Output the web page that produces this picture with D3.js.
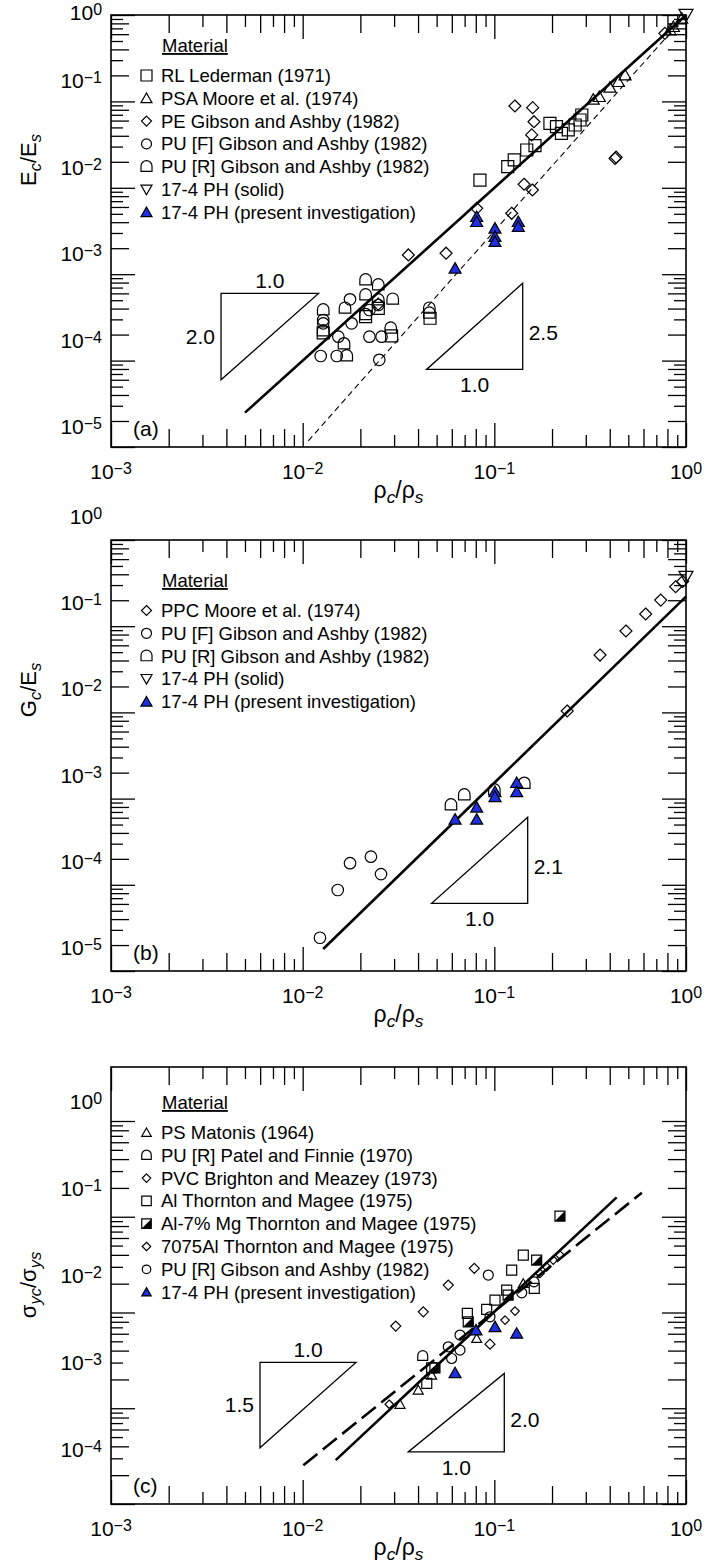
<!DOCTYPE html>
<html>
<head>
<meta charset="utf-8">
<script src="https://cdn.jsdelivr.net/npm/d3@7"></script>
<style>
  body { margin: 0; background: #fff; }
  svg { display: block; }
  text { font-family: "Liberation Sans", Arial, Helvetica, sans-serif; fill: #000; }
</style>
</head>
<body>
<svg id="chart" width="707" height="1568"></svg>
<script>
// ---------- data (x = rho_c/rho_s, y = property ratio) ----------
const xTickVals = [1e-3, 1e-2, 1e-1, 1];

// panel (a): Ec/Es
const aLederman = [[0.0841,0.0123],[0.1175,0.01755],[0.127,0.021],[0.1476,0.0274],[0.163,0.0307],[0.195,0.0558],[0.211,0.051],[0.224,0.0427],[0.243,0.0467],[0.264,0.0533],[0.280,0.0609],[0.286,0.0696],[0.0128,2.09e-4],[0.0213,3.22e-4],[0.0248,4.03e-4],[0.0291,1.93e-4],[0.0462,3.09e-4]];
const aPSA = [[0.328,0.1057],[0.353,0.1134],[0.401,0.1456],[0.444,0.169],[0.481,0.202],[0.825,0.67],[0.859,0.732],[0.95,0.916]];
const aPE = [[0.0356,1.67e-3],[0.056,1.75e-3],[0.0809,5.79e-3],[0.1232,5.07e-3],[0.143,0.011],[0.158,9.43e-3],[0.128,0.0885],[0.1585,0.0846],[0.161,0.0582],[0.1567,0.0409],[0.4264,0.0219],[0.432,0.0226],[0.776,0.614],[0.0248,4.5e-4]];
const aPUF = [[0.0128,2.95e-4],[0.0128,2.7e-4],[0.01766,5.12e-4],[0.018,2.7e-4],[0.01535,1.89e-4],[0.01242,1.13e-4],[0.01506,1.13e-4],[0.0223,3.85e-4],[0.0248,4.4e-4],[0.0223,1.89e-4],[0.0258,1.89e-4],[0.0251,1.02e-4]];
const aPUR = [[0.0128,3.85e-4],[0.0128,2.2e-4],[0.01663,4.03e-4],[0.01643,1.56e-4],[0.01698,1.13e-4],[0.0213,8.57e-4],[0.0213,5.74e-4],[0.0213,3.4e-4],[0.0248,7.5e-4],[0.0248,5.03e-4],[0.0295,5.12e-4],[0.0288,2.37e-4],[0.0458,4.03e-4],[0.0458,3.53e-4]];
const aSolidPH = [[1,1]];
const aPresent = [[0.0624,1.17e-3],[0.0809,4.63e-3],[0.0809,4.05e-3],[0.1008,3.4e-3],[0.1008,2.72e-3],[0.1008,2.38e-3],[0.1334,4.05e-3],[0.1334,3.55e-3]];
const aFitSolid = [[0.005,2.5e-5],[1,1]];
const aFitDashed = [[0.0107,1.18e-5],[1,1]];
const aTriLeft = [[0.00375,6e-4],[0.0121,6e-4],[0.00375,6e-5]];
const aTriRight = [[0.0443,7.9e-5],[0.1406,7.9e-5],[0.1406,7.85e-4]];

// panel (b): Gc/Es
const bPPC = [[0.240,0.01038],[0.356,0.0463],[0.486,0.088],[0.616,0.1385],[0.738,0.201],[0.883,0.287],[0.96,0.33]];
const bPUF = [[0.01231,2.43e-5],[0.01524,8.7e-5],[0.01766,1.78e-4],[0.0227,2.12e-4],[0.02563,1.33e-4]];
const bPUR = [[0.0594,8.43e-4],[0.0697,1.1e-3],[0.100,1.26e-3],[0.1433,1.5e-3]];
const bSolidPH = [[1,0.372]];
const bPresent = [[0.0624,5.75e-4],[0.0809,7.93e-4],[0.0809,5.75e-4],[0.1008,1.2e-3],[0.1008,1.05e-3],[0.1308,1.53e-3],[0.1308,1.2e-3]];
const bFit = [[0.0128,1.8e-5],[1,0.22]];
const bTri = [[0.0471,6.1e-5],[0.1493,6.1e-5],[0.1493,6.07e-4]];

// panel (c): sigma_yc/sigma_ys
const cPS = [[0.0322,1.1e-3],[0.0401,1.55e-3],[0.0471,2.22e-3],[0.0809,5.36e-3],[0.1416,0.0201]];
const cPUPatel = [[0.0423,3.5e-3]];
const cPVC = [[0.0786,0.0289],[0.0575,0.01933],[0.0426,0.01017],[0.0306,7.21e-3],[0.0949,4.67e-3]];
const cAl = [[0.1232,0.0277],[0.1416,0.0398],[0.1616,0.01786],[0.116,0.01714],[0.1008,0.01348],[0.0912,0.01077],[0.0723,9.78e-3],[0.0471,2.64e-3],[0.0444,1.82e-3]];
const cAlMg = [[0.220,0.1017],[0.1663,0.0353],[0.0731,7.99e-3],[0.049,2.64e-3],[0.118,0.0152]];
const c7075 = [[0.0283,1.1e-3],[0.1137,8.33e-3],[0.1282,0.01034],[0.173,0.0256],[0.1875,0.030],[0.203,0.0353],[0.220,0.0398]];
const cPUGibson = [[0.093,0.0246],[0.139,0.01607],[0.161,0.02093],[0.0949,9.02e-3],[0.0662,5.81e-3],[0.0575,4.38e-3],[0.0662,4.05e-3],[0.0599,3.31e-3]];
const cPresent = [[0.0624,2.34e-3],[0.0802,6.55e-3],[0.1008,7.09e-3],[0.1308,6.05e-3]];
const cFitSolid = [[0.01487,2.87e-4],[0.4347,0.1595]];
const cFitDashed = [[0.01008,2.54e-4],[0.588,0.178]];
const cTriLeft = [[0.00599,3.01e-3],[0.01897,3.01e-3],[0.00599,3.86e-4]];
const cTriRight = [[0.03556,3.5e-4],[0.1127,3.5e-4],[0.1127,2.31e-3]];

const aLegend = ["RL Lederman (1971)","PSA Moore et al. (1974)","PE Gibson and Ashby (1982)","PU [F] Gibson and Ashby (1982)","PU [R] Gibson and Ashby (1982)","17-4 PH (solid)","17-4 PH (present investigation)"];
const bLegend = ["PPC Moore et al. (1974)","PU [F] Gibson and Ashby (1982)","PU [R] Gibson and Ashby (1982)","17-4 PH (solid)","17-4 PH (present investigation)"];
const cLegend = ["PS Matonis (1964)","PU [R] Patel and Finnie (1970)","PVC Brighton and Meazey (1973)","Al Thornton and Magee (1975)","Al-7% Mg Thornton and Magee (1975)","7075Al Thornton and Magee (1975)","PU [R] Gibson and Ashby (1982)","17-4 PH (present investigation)"];

// ---------- drawing ----------
const svg = d3.select("#chart");
const BLUE = "#1f2fe0";
const x = d3.scaleLog().domain([1e-3, 1]).range([111, 686]);

function markerPath(type, s) {
  const h = s / 2;
  switch (type) {
    case "square": case "half": return `M${-h},${-h}H${h}V${h}H${-h}Z`;
    case "triangle": case "blue": return `M0,${-0.95*h}L${h},${0.8*h}L${-h},${0.8*h}Z`;
    case "triDown": return `M0,${0.95*h}L${h},${-0.8*h}L${-h},${-0.8*h}Z`;
    case "diamond": return `M0,${-h}L${h},0L0,${h}L${-h},0Z`;
    case "circle": return `M${h},0A${h},${h} 0 1 1 ${-h},0A${h},${h} 0 1 1 ${h},0Z`;
    case "dome": return `M${-h},${0.85*h}L${-h},${-0.1*h}A${h},${h} 0 0 1 ${h},${-0.1*h}L${h},${0.85*h}Z`;
  }
}

function drawMarkers(g, pts, type, s, xs, ys) {
  const sel = g.append("g").selectAll("g").data(pts).join("g")
    .attr("transform", d => `translate(${xs(d[0])},${ys(d[1])})`);
  sel.append("path").attr("d", markerPath(type, s))
    .attr("fill", type === "blue" ? BLUE : "none")
    .attr("stroke", "#000").attr("stroke-width", 1.2);
  if (type === "half") {
    const h = s / 2;
    sel.append("path").attr("d", `M${h},${-h}L${h},${h}L${-h},${h}Z`).attr("fill", "#000");
  }
}

function logTicks(d0, d1) {
  const out = [];
  for (let k = Math.floor(Math.log10(d0)); k <= Math.ceil(Math.log10(d1)); k++)
    for (let m = 1; m <= 9; m++) {
      const v = m * Math.pow(10, k);
      if (v >= d0 * 0.999 && v <= d1 * 1.001) out.push({ v, m });
    }
  return out;
}
const tickLen = m => m === 1 ? 24 : (m % 2 === 0 ? 18 : 12);

function expText(sel, v, fs, anchor) {
  const e = Math.round(Math.log10(v));
  sel.attr("font-size", fs).attr("text-anchor", anchor);
  sel.append("tspan").text("10");
  sel.append("tspan").attr("font-size", fs * 0.76).attr("dy", -5).text(e < 0 ? "\u2212" + (-e) : String(e));
}

function ratioLabel(sel, sym1, sym2, sub1, sub2, fs) {
  sel.attr("font-size", fs);
  sel.append("tspan").text(sym1);
  sel.append("tspan").attr("font-size", fs * 0.75).attr("font-style", "italic").attr("dy", 5).text(sub1);
  sel.append("tspan").attr("dy", -5).text("/" + sym2);
  sel.append("tspan").attr("font-size", fs * 0.75).attr("font-style", "italic").attr("dy", 5).text(sub2);
}

function drawPanel(p) {
  const y = d3.scaleLog().domain(p.yDomain).range([p.bottom, p.top]);
  const g = svg.append("g");
  const xt = logTicks(1e-3, 1), yt = logTicks(p.yDomain[0], 1);

  // ticks via d3 axes, one call per tick length class
  [24, 18, 12].forEach(L => {
    const xv = xt.filter(t => tickLen(t.m) === L).map(t => t.v);
    const yv = yt.filter(t => tickLen(t.m) === L).map(t => t.v);
    const axes = [
      [d3.axisBottom(x).tickValues(xv), `translate(0,${p.bottom})`],
      [d3.axisTop(x).tickValues(xv), `translate(0,${p.top})`],
      [d3.axisLeft(y).tickValues(yv), `translate(111,0)`],
      [d3.axisRight(y).tickValues(yv), `translate(686,0)`]
    ];
    axes.forEach(([ax, tr]) => {
      const a = g.append("g").attr("transform", tr)
        .call(ax.tickSizeInner(-L).tickSizeOuter(0).tickFormat(""));
      a.select(".domain").remove();
      a.selectAll("line").attr("stroke", "#000").attr("stroke-width", 1.3);
    });
  });
  g.append("rect").attr("x", 111).attr("y", p.top).attr("width", 575).attr("height", p.bottom - p.top)
    .attr("fill", "none").attr("stroke", "#000").attr("stroke-width", 1.6);

  // tick labels (the figure places its y labels on their own spacing)
  const yLab = d3.scaleLog().domain([p.yLabels[p.yLabels.length - 1], 1]).range(p.yLabelRange);
  xTickVals.forEach(v => {
    g.append("text").attr("x", x(v)).attr("y", p.bottom + 32).call(s => expText(s, v, 21, "middle"));
  });
  p.yLabels.forEach(v => {
    g.append("text").attr("x", 102).attr("y", Math.max(yLab(v), 13) + 7).call(s => expText(s, v, 21, "end"));
  });

  // axis titles
  g.append("text").attr("x", 398.5).attr("y", p.bottom + 51).attr("text-anchor", "middle")
    .call(s => ratioLabel(s, "\u03c1", "\u03c1", "c", "s", 23));
  g.append("text").attr("transform", `translate(36,${p.yTitleY}) rotate(-90)`).attr("text-anchor", "middle")
    .call(s => ratioLabel(s, p.ySym[0], p.ySym[1], p.ySub[0], p.ySub[1], 22));

  // panel tag
  g.append("text").attr("x", 133).attr("y", p.bottom - 11).attr("font-size", 21).text(p.tag);

  // reference triangles
  const line = d3.line().x(d => x(d[0])).y(d => y(d[1]));
  p.triangles.forEach(t => {
    g.append("path").attr("d", line(t.pts) + "Z").attr("fill", "none").attr("stroke", "#000").attr("stroke-width", 1.3);
    t.labels.forEach(l => {
      g.append("text").attr("x", x(l.at[0]) + l.dx).attr("y", y(l.at[1]) + l.dy)
        .attr("font-size", 21).attr("text-anchor", l.anchor).text(l.text);
    });
  });

  // fit lines
  p.fits.forEach(f => {
    g.append("path").attr("d", line(f.pts)).attr("fill", "none").attr("stroke", "#000")
      .attr("stroke-width", f.w).attr("stroke-dasharray", f.dash || null);
  });

  // data
  p.series.forEach(s => drawMarkers(g, s.pts, s.type, s.size, x, y));

  // legend
  g.append("text").attr("x", 162).attr("y", p.legendTop).attr("font-size", 18.5)
    .attr("text-decoration", "underline").text("Material");
  p.legend.forEach((name, i) => {
    const by = p.legendTop + 30 + i * 22.8;
    const s = p.series[i];
    drawMarkers(g, [[0, 0]], s.type, s.type === "diamond" || s.type === "circle" ? p.legSize - 1 : p.legSize,
      () => 146.5, () => by - 6.5);
    g.append("text").attr("x", 161).attr("y", by).attr("font-size", 18.5).text(name);
  });
}

function triLabels(pts, vertSide, v, h) {
  // vertical edge on the left (horizontal edge on top) or on the right (horizontal edge at bottom)
  if (vertSide === "left") {
    return [
      { text: h, at: [Math.sqrt(pts[0][0] * pts[1][0]), pts[0][1]], dx: 0, dy: -5, anchor: "middle" },
      { text: v, at: [pts[0][0], Math.sqrt(pts[0][1] * pts[2][1])], dx: -6, dy: 7, anchor: "end" }
    ];
  }
  return [
    { text: h, at: [Math.sqrt(pts[0][0] * pts[1][0]), pts[0][1]], dx: 0, dy: 23, anchor: "middle" },
    { text: v, at: [pts[1][0], Math.sqrt(pts[1][1] * pts[2][1])], dx: 6, dy: 14, anchor: "start" }
  ];
}

drawPanel({
  tag: "(a)", top: 15, bottom: 447, yDomain: [1e-5, 1], yLabels: [1, 1e-1, 1e-2, 1e-3, 1e-4, 1e-5], yLabelRange: [427, -5],
  ySym: ["E", "E"], ySub: ["c", "s"], yTitleY: 160, legendTop: 52, legSize: 11,
  triangles: [
    { pts: aTriLeft, labels: triLabels(aTriLeft, "left", "2.0", "1.0") },
    { pts: aTriRight, labels: triLabels(aTriRight, "right", "2.5", "1.0") }
  ],
  fits: [{ pts: aFitSolid, w: 2.6 }, { pts: aFitDashed, w: 1.1, dash: "6,4" }],
  series: [
    { pts: aLederman, type: "square", size: 12 },
    { pts: aPSA, type: "triangle", size: 12 },
    { pts: aPE, type: "diamond", size: 12 },
    { pts: aPUF, type: "circle", size: 11.5 },
    { pts: aPUR, type: "dome", size: 11.5 },
    { pts: aSolidPH, type: "triDown", size: 14 },
    { pts: aPresent, type: "blue", size: 12 }
  ],
  legend: aLegend
});

drawPanel({
  tag: "(b)", top: 540, bottom: 971, yDomain: [1e-5, 1], yLabels: [1, 1e-1, 1e-2, 1e-3, 1e-4, 1e-5], yLabelRange: [948, 517],
  ySym: ["G", "E"], ySub: ["c", "s"], yTitleY: 690, legendTop: 587, legSize: 11,
  triangles: [{ pts: bTri, labels: triLabels(bTri, "right", "2.1", "1.0") }],
  fits: [{ pts: bFit, w: 2.6 }],
  series: [
    { pts: bPPC, type: "diamond", size: 12 },
    { pts: bPUF, type: "circle", size: 11.5 },
    { pts: bPUR, type: "dome", size: 11.5 },
    { pts: bSolidPH, type: "triDown", size: 14 },
    { pts: bPresent, type: "blue", size: 12 }
  ],
  legend: bLegend
});

drawPanel({
  tag: "(c)", top: 1067, bottom: 1504, yDomain: [1e-4, Math.pow(10, 0.564)], yLabels: [1, 1e-1, 1e-2, 1e-3, 1e-4], yLabelRange: [1450, 1102],
  ySym: ["\u03c3", "\u03c3"], ySub: ["yc", "ys"], yTitleY: 1285, legendTop: 1109, legSize: 9.5,
  triangles: [
    { pts: cTriLeft, labels: triLabels(cTriLeft, "left", "1.5", "1.0") },
    { pts: cTriRight, labels: triLabels(cTriRight, "right", "2.0", "1.0") }
  ],
  fits: [{ pts: cFitSolid, w: 2.6 }, { pts: cFitDashed, w: 2.6, dash: "18,7" }],
  series: [
    { pts: cPS, type: "triangle", size: 10 },
    { pts: cPUPatel, type: "dome", size: 10 },
    { pts: cPVC, type: "diamond", size: 10 },
    { pts: cAl, type: "square", size: 10 },
    { pts: cAlMg, type: "half", size: 10 },
    { pts: c7075, type: "diamond", size: 8.5 },
    { pts: cPUGibson, type: "circle", size: 10 },
    { pts: cPresent, type: "blue", size: 12 }
  ],
  legend: cLegend
});
</script>
</body>
</html>
